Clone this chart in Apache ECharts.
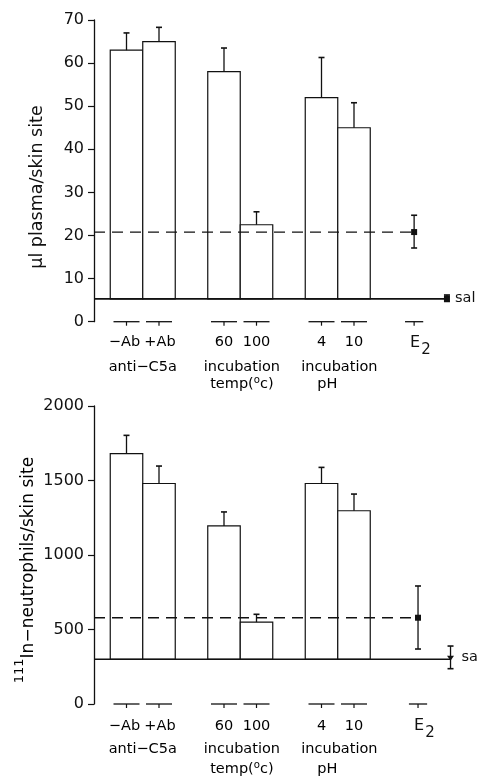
<!DOCTYPE html>
<html><head><meta charset="utf-8">
<script src="https://cdn.jsdelivr.net/npm/echarts@6/dist/echarts.min.js"></script>
<style>html,body{margin:0;padding:0;background:#fff}#c{width:481px;height:776px}</style>
</head><body><div id="c"></div>
<script>
// ---------- data ----------
const categories = ['−Ab', '+Ab', '60', '100', '4', '10'];
const barPositions = [1, 2, 4, 5, 7, 8];
const groupLines = [['anti−C5a'], ['incubation', 'temp(oc)'], ['incubation', 'pH']];
const groupPositions = [1.5, 4.55, 7.55];
const e2Label = ['E', '2'];
const salineLabels = ['sal', 'sa'];

// panel 1: µl plasma / skin site
const plasmaTicks = [0, 70, 10]; // min, max, interval
const plasmaMean = [63, 65, 58, 22.5, 52, 45];
const plasmaErrTop = [67, 68.3, 63.5, 25.5, 61.3, 50.8];
const plasmaBaseline = 5.3;
const plasmaE2 = [9.85, 20.8, 17.1, 24.7];     // x, mean, low, high
const plasmaSaline = [10.86, 5.4, 4.7, 6.2];   // x, mean, low, high

// panel 2: 111In-neutrophils / skin site
const neutroTicks = [0, 2000, 500];
const neutroMean = [1680, 1480, 1195, 550, 1480, 1297];
const neutroErrTop = [1803, 1597, 1289, 602, 1588, 1409];
const neutroBaseline = 300;
const neutroE2 = [9.97, 579, 369, 792];
const neutroSaline = [10.97, 311, 237, 389];

// ---------- styling ----------
const INK = '#111';
const FONT = 'DejaVu Sans';
const LBL = 14.5;

function barRender(base) {
  return function (params, api) {
    const x = api.value(0), v = api.value(1);
    const p1 = api.coord([x - 0.5, v]);
    const p2 = api.coord([x + 0.5, base]);
    return { type: 'rect', shape: { x: p1[0], y: p1[1], width: p2[0] - p1[0], height: p2[1] - p1[1] },
      style: { fill: '#fff', stroke: INK, lineWidth: 1.2 } };
  };
}
function errRender(params, api) {
  const x = api.value(0), lo = api.value(1), hi = api.value(2), both = api.value(3);
  const a = api.coord([x, lo]), b = api.coord([x, hi]);
  const ch = [
    { type: 'line', shape: { x1: a[0], y1: a[1], x2: b[0], y2: b[1] }, style: { stroke: INK, lineWidth: 1.3 } },
    { type: 'line', shape: { x1: b[0] - 3, y1: b[1], x2: b[0] + 3, y2: b[1] }, style: { stroke: INK, lineWidth: 1.6 } }
  ];
  if (both) ch.push({ type: 'line', shape: { x1: a[0] - 3, y1: a[1], x2: a[0] + 3, y2: a[1] }, style: { stroke: INK, lineWidth: 1.6 } });
  return { type: 'group', children: ch };
}
function pointRender(shape) {
  return function (params, api) {
    const p = api.coord([api.value(0), api.value(1)]);
    if (shape === 'square') return { type: 'rect', shape: { x: p[0] - 3, y: p[1] - 3, width: 6, height: 6 }, style: { fill: INK } };
    return { type: 'polygon', shape: { points: [[p[0] - 3.5, p[1] - 2], [p[0] + 3.5, p[1] - 2], [p[0], p[1] + 3]] }, style: { fill: INK } };
  };
}
function tickRender(params, api) {
  const x = api.value(0), hw = api.value(1);
  const a = api.coord([x - hw, 0]), b = api.coord([x + hw, 0]), c = api.coord([x, 0]);
  return { type: 'group', children: [
    { type: 'line', shape: { x1: a[0], y1: a[1], x2: b[0], y2: b[1] }, style: { stroke: INK, lineWidth: 1.3 } },
    { type: 'line', shape: { x1: c[0], y1: c[1], x2: c[0], y2: c[1] + 4 }, style: { stroke: INK, lineWidth: 1.2 } }
  ] };
}
function txt(x, y, text, size, align) {
  const rich = {
    a: { fontSize: size, fontFamily: FONT, color: INK, lineHeight: 18 },
    s: { fontSize: size * 0.7, fontFamily: FONT, color: INK, lineHeight: 18, verticalAlign: 'top', padding: [0, 0, 6, 0] }
  };
  let t = text;
  if (text === 'temp(oc)') t = '{a|temp(}{s|o}{a|c)}';
  else t = '{a|' + text + '}';
  return { type: 'text', x: x, y: y, style: { text: t, rich: rich, align: align || 'center', verticalAlign: 'middle' } };
}
function labelRender(dy) {
  return function (params, api) {
    const i = api.value(1);
    const p = api.coord([api.value(0), 0]);
    const dx = i === 0 ? -2 : (i === 1 ? 1 : 0);
    return txt(p[0] + dx, p[1] + dy[0], categories[i], LBL);
  };
}
function groupRender(dy) {
  return function (params, api) {
    const i = api.value(1);
    const p = api.coord([api.value(0), 0]);
    const lines = groupLines[i];
    return { type: 'group', children: lines.map((l, k) => {
      let dx = 0;
      if (l === 'pH') dx = -12;
      return txt(p[0] + dx, p[1] + dy[1 + k], l, LBL);
    }) };
  };
}
function e2Render(dy) {
  return function (params, api) {
    const p = api.coord([api.value(0), 0]);
    return { type: 'group', children: [
      { type: 'text', x: p[0] + 1, y: p[1] + dy[0], style: { text: e2Label[0], fontSize: 16, fontFamily: FONT, fill: INK, align: 'center', verticalAlign: 'middle' } },
      { type: 'text', x: p[0] + 12, y: p[1] + dy[0] + 7, style: { text: e2Label[1], fontSize: 15, fontFamily: FONT, fill: INK, align: 'center', verticalAlign: 'middle' } }
    ] };
  };
}
function salLabelRender(txtIdx, dx) {
  return function (params, api) {
    const p = api.coord([api.value(0), api.value(1)]);
    return { type: 'text', x: p[0] + dx, y: p[1], style: { text: salineLabels[txtIdx], fontSize: LBL, fontFamily: FONT, fill: INK, align: 'left', verticalAlign: 'middle' } };
  };
}

function panelSeries(g, mean, errTop, base, e2, sal, dy, salIdx, salShape, salDx) {
  const common = { xAxisIndex: g, yAxisIndex: g, silent: true, animation: false };
  return [
    Object.assign({ type: 'custom', renderItem: barRender(base), data: barPositions.map((x, i) => [x, mean[i]]), z: 2 }, common),
    Object.assign({ type: 'custom', renderItem: errRender, clip: false,
      data: barPositions.map((x, i) => [x, mean[i], errTop[i], 0]).concat([[e2[0], e2[2], e2[3], 1], [sal[0], sal[2], sal[3], 1]]), z: 3 }, common),
    Object.assign({ type: 'line', data: [[0, base], [sal[0], base]], showSymbol: false, lineStyle: { color: INK, width: 1.6 }, z: 4 }, common),
    Object.assign({ type: 'line', data: [[0, e2[1]], [e2[0], e2[1]]], showSymbol: false, lineStyle: { color: INK, width: 1.3, type: [11, 7] }, z: 4 }, common),
    Object.assign({ type: 'custom', renderItem: pointRender('square'), data: [[e2[0], e2[1]]], z: 5 }, common),
    Object.assign({ type: 'custom', renderItem: pointRender(salShape), clip: false, data: [[sal[0], sal[1]]], z: 5 }, common),
    Object.assign({ type: 'custom', renderItem: salLabelRender(salIdx, salDx), clip: false, data: [[sal[0], sal[1]]], z: 5 }, common),
    Object.assign({ type: 'custom', renderItem: tickRender, clip: false,
      data: barPositions.map(x => [x, 0.4]).concat([[e2[0], 0.28]]), z: 5 }, common),
    Object.assign({ type: 'custom', renderItem: labelRender(dy), clip: false, data: barPositions.map((x, i) => [x, i]), z: 5 }, common),
    Object.assign({ type: 'custom', renderItem: groupRender(dy), clip: false, data: groupPositions.map((x, i) => [x, i]), z: 5 }, common),
    Object.assign({ type: 'custom', renderItem: e2Render(dy), clip: false, data: [[e2[0], 0]], z: 5 }, common)
  ];
}

function yAxis(g, t) {
  return { type: 'value', gridIndex: g, min: t[0], max: t[1], interval: t[2],
    axisLine: { show: true, lineStyle: { color: INK, width: 1.3 } },
    axisTick: { show: true, length: 6, lineStyle: { color: INK, width: 1.2 } },
    axisLabel: { fontSize: 16, fontFamily: FONT, color: INK, margin: 10, formatter: v => String(v) },
    splitLine: { show: false } };
}
function xAxis(g) {
  return { type: 'value', gridIndex: g, min: 0, max: 11, show: false };
}

const chart = echarts.init(document.getElementById('c'), null, { renderer: 'canvas' });
chart.setOption({
  backgroundColor: '#fff',
  animation: false,
  grid: [
    { left: 94, top: 20, width: 357.5, height: 301.7 },
    { left: 94, top: 406, width: 357.5, height: 298 }
  ],
  xAxis: [xAxis(0), xAxis(1)],
  yAxis: [yAxis(0, plasmaTicks), yAxis(1, neutroTicks)],
  graphic: [
    { type: 'text', x: 37, y: 187, rotation: Math.PI / 2,
      style: { text: 'μl plasma/skin site', fontSize: 17.5, fontFamily: FONT, fill: INK, align: 'center', verticalAlign: 'middle' } },
    { type: 'text', x: 25, y: 570, rotation: Math.PI / 2,
      style: { text: '{s|111}{a|In−neutrophils/skin site}', align: 'center', verticalAlign: 'middle',
        rich: { s: { fontSize: 13, fontFamily: FONT, color: INK, lineHeight: 24, verticalAlign: 'top' },
                a: { fontSize: 17, fontFamily: FONT, color: INK, lineHeight: 24, verticalAlign: 'bottom' } } } }
  ],
  series: panelSeries(0, plasmaMean, plasmaErrTop, plasmaBaseline, plasmaE2, plasmaSaline, [21, 46, 63], 0, 'square', 8)
    .concat(panelSeries(1, neutroMean, neutroErrTop, neutroBaseline, neutroE2, neutroSaline, [22, 45, 65], 1, 'tri', 11))
});
</script></body></html>
